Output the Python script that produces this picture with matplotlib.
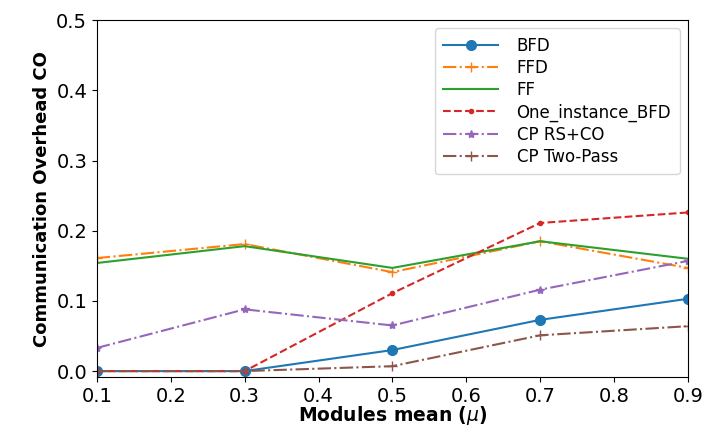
import matplotlib
matplotlib.use("Agg")
import matplotlib.pyplot as plt

x = [0.1, 0.3, 0.5, 0.7, 0.9]
bfd = [0.0, 0.0, 0.030, 0.073, 0.103]
ffd = [0.161, 0.181, 0.141, 0.185, 0.147]
ff = [0.154, 0.178, 0.147, 0.185, 0.160]
one_bfd = [0.0, 0.0, 0.111, 0.211, 0.226]
cp_rsco = [0.033, 0.088, 0.065, 0.116, 0.157]
cp_two = [0.0, 0.0, 0.007, 0.051, 0.064]

fig = plt.figure(figsize=(7.07, 4.28), dpi=100)
ax = fig.add_axes([0.137, 0.119, 0.836, 0.834])

ax.plot(x, bfd, '-o', color='tab:blue', markersize=7, label='BFD')
ax.plot(x, ffd, '-.+', color='tab:orange', markersize=7, label='FFD')
ax.plot(x, ff, '-', color='tab:green', label='FF')
ax.plot(x, one_bfd, '--.', color='tab:red', label='One_instance_BFD')
ax.plot(x, cp_rsco, '-.*', color='tab:purple', markersize=6, label='CP RS+CO')
ax.plot(x, cp_two, '-.+', color='tab:brown', markersize=7, label='CP Two-Pass')

ax.set_xlim(0.1, 0.9)
ax.set_ylim(-0.0085, 0.5)
ax.set_xticks([0.1, 0.2, 0.3, 0.4, 0.5, 0.6, 0.7, 0.8, 0.9])
ax.set_yticks([0.0, 0.1, 0.2, 0.3, 0.4, 0.5])
ax.tick_params(labelsize=14)
ax.set_xlabel(r'Modules mean ($\mu$)', fontsize=13.5, fontweight='bold', labelpad=-1)
ax.set_ylabel('Communication Overhead CO', fontsize=13, fontweight='bold')
ax.legend(loc='upper right', fontsize=12, handlelength=3.3, handletextpad=1.1,
          labelspacing=0.25, borderaxespad=0.5, borderpad=0.5)

fig.savefig('out.png', dpi=100)
